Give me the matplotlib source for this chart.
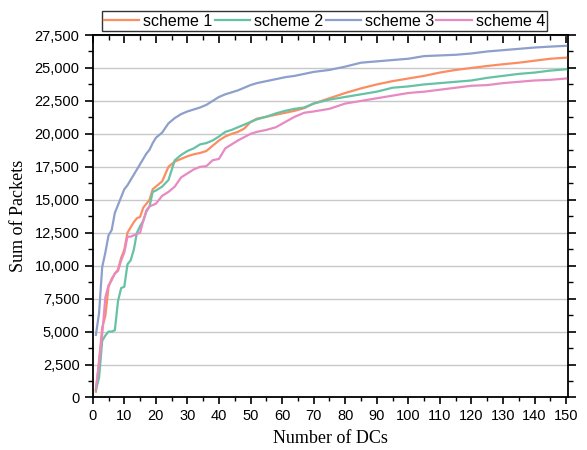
import matplotlib
matplotlib.use("Agg")
import matplotlib.pyplot as plt
from matplotlib.ticker import MultipleLocator, FuncFormatter

dcs = [1, 2, 3, 4, 5, 6, 7, 8, 9, 10, 11, 12, 13, 14, 15, 16, 17, 18, 19, 20,
       22, 24, 26, 28, 30, 32, 34, 36, 38, 40, 42, 44, 46, 48, 50, 52, 55, 58,
       61, 64, 67, 70, 75, 80, 85, 90, 95, 100, 105, 110, 115, 120, 125, 130,
       135, 140, 145, 150]

scheme1 = [440, 2800, 5300, 6200, 8400, 9000, 9400, 9700, 10600, 11200, 12500,
           12900, 13300, 13600, 13700, 14400, 14700, 15000, 15800, 16000,
           16400, 17500, 17900, 18100, 18300, 18450, 18550, 18700, 19100, 19500,
           19800, 20000, 20150, 20400, 20900, 21150, 21300, 21450, 21600, 21750,
           21950, 22300, 22700, 23100, 23450, 23750, 24000, 24200, 24400, 24650,
           24850, 25000, 25150, 25280, 25400, 25550, 25700, 25780]

scheme2 = [570, 1500, 4300, 4700, 5000, 5000, 5100, 7300, 8300, 8400, 10100,
           10400, 11200, 12500, 13000, 13400, 14100, 14500, 15600, 15700,
           16000, 16500, 18000, 18400, 18700, 18900, 19200, 19300, 19500, 19800,
           20150, 20300, 20500, 20700, 20900, 21100, 21300, 21550, 21750, 21900,
           22000, 22300, 22600, 22800, 23000, 23200, 23500, 23600, 23750, 23850,
           23950, 24050, 24250, 24400, 24550, 24650, 24800, 24900]

scheme3 = [4750, 6400, 9900, 11000, 12300, 12700, 14000, 14600, 15200, 15800,
           16100, 16500, 16900, 17300, 17700, 18100, 18500, 18800, 19300, 19700,
           20100, 20800, 21200, 21500, 21700, 21850, 22000, 22200, 22500, 22800,
           23000, 23150, 23300, 23500, 23700, 23850, 24000, 24150, 24300, 24400,
           24550, 24700, 24850, 25100, 25400, 25500, 25600, 25700, 25900, 25950,
           26000, 26100, 26250, 26350, 26450, 26550, 26620, 26680]

scheme4 = [700, 2600, 4800, 7600, 8500, 8900, 9400, 9600, 10400, 11000, 12200,
           12200, 12300, 12400, 12500, 13400, 14200, 14500, 14600, 14700,
           15300, 15600, 16000, 16700, 17000, 17300, 17500, 17550, 18000, 18100,
           18900, 19200, 19500, 19750, 20000, 20150, 20300, 20500, 20900, 21300,
           21600, 21700, 21900, 22300, 22500, 22700, 22900, 23100, 23200, 23350,
           23500, 23650, 23700, 23850, 23950, 24050, 24100, 24200]

series = [("scheme 1", scheme1, "#FC8D62"),
          ("scheme 2", scheme2, "#66C2A5"),
          ("scheme 3", scheme3, "#8DA0CB"),
          ("scheme 4", scheme4, "#E78AC3")]

fig = plt.figure(figsize=(5.87, 4.5), dpi=100)
ax = fig.add_axes([0.158, 0.1167, 0.8096, 0.8055])

for name, vals, col in series:
    ax.plot(dcs, vals, color=col, lw=1.6, label=name, zorder=3)

ax.set_xlim(0, 150.6)
ax.set_ylim(0, 27500)
ax.xaxis.set_major_locator(MultipleLocator(10))
ax.xaxis.set_minor_locator(MultipleLocator(5))
ax.yaxis.set_major_locator(MultipleLocator(2500))
ax.yaxis.set_minor_locator(MultipleLocator(1250))
ax.yaxis.set_major_formatter(FuncFormatter(lambda v, p: f"{int(v):,}"))

ax.grid(axis="y", which="major", color="#c8c8c8", lw=1.0, zorder=0)

for s in ax.spines.values():
    s.set_linewidth(1.3)

ax.tick_params(axis="both", which="major", direction="out", length=5, width=1.2,
               labelsize=10.5)
ax.tick_params(axis="both", which="minor", direction="out", length=3, width=1.0)
ax.tick_params(axis="y", which="both", right=True)
ax.tick_params(axis="y", which="major", length=6)
ax.tick_params(axis="y", which="minor", length=3.5)
for lab in ax.get_xticklabels() + ax.get_yticklabels():
    lab.set_fontfamily("Liberation Sans")

top = ax.secondary_xaxis("top")
top.xaxis.set_major_locator(MultipleLocator(10))
top.xaxis.set_minor_locator(MultipleLocator(5))
top.tick_params(axis="x", which="major", direction="in", length=6, width=1.2,
                labeltop=False)
top.tick_params(axis="x", which="minor", direction="in", length=3.5, width=1.0)
top.spines["top"].set_linewidth(1.3)

ax.set_xlabel("Number of DCs", family="Liberation Serif", fontsize=13, labelpad=5)
ax.set_ylabel("Sum of Packets", family="Liberation Serif", fontsize=13, labelpad=5)

leg = ax.legend(loc="center", bbox_to_anchor=(0.553, 0.953),
                bbox_transform=fig.transFigure, ncol=4, frameon=True,
                fancybox=False, edgecolor="black", handlelength=2.2,
                handletextpad=0.25, columnspacing=0.15, borderpad=0.15,
                borderaxespad=0, prop={"family": "Liberation Sans", "size": 11.5})
leg.get_frame().set_linewidth(1.0)

fig.savefig("out.png", dpi=100)
